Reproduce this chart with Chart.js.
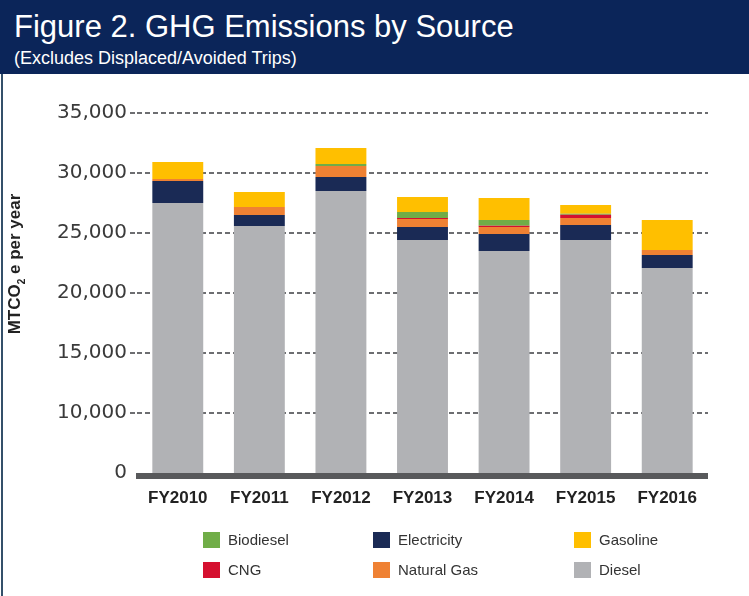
<html>
<head>
<meta charset="utf-8">
<script src="https://cdn.jsdelivr.net/npm/chart.js@4.4.1/dist/chart.umd.min.js"></script>
<style>
  body { margin:0; width:749px; height:596px; background:#fff; position:relative; overflow:hidden; font-family:'Liberation Sans', Arial, sans-serif; }
  #hdr { position:absolute; left:0; top:0; width:749px; height:74px; background:#0b2559; color:#fff; z-index:2; }
  #hdr .t { position:absolute; left:14px; top:9px; font-size:31px; white-space:nowrap; }
  #hdr .s { position:absolute; left:14px; top:48px; font-size:18px; white-space:nowrap; }
  #edge { position:absolute; left:1px; top:74px; width:2px; height:522px; background:#34506a; z-index:2; }
  #ytitle { position:absolute; left:16px; top:264px; transform:translate(-50%,-50%) rotate(-90deg); font-size:17px; font-weight:bold; color:#222; white-space:nowrap; z-index:2; }
  #ytitle sub { font-size:10px; }
  #legend { position:absolute; left:0; top:0; z-index:2; }
  .lg { position:absolute; font-size:15px; color:#333; white-space:nowrap; }
  .lg i { position:absolute; left:0; top:0; width:17px; height:16px; }
  .lg span { position:absolute; left:25px; top:-1px; }
  #wrap { position:absolute; left:0; top:0; width:749px; height:596px; }
</style>
</head>
<body>
<div id="hdr">
  <div class="t">Figure 2. GHG Emissions by Source</div>
  <div class="s">(Excludes Displaced/Avoided Trips)</div>
</div>
<div id="edge"></div>
<div id="ytitle">MTCO<sub>2</sub> e per year</div>
<div id="legend"></div>
<div id="wrap"><canvas id="myChart" width="749" height="596"></canvas></div>
<script>
var categories = ['FY2010','FY2011','FY2012','FY2013','FY2014','FY2015','FY2016'];
var diesel      = [27500, 25580, 28500, 24420, 23500, 24420, 22080];
var electricity = [1830, 920, 1170, 1080, 1420, 1250, 1080];
var naturalGas  = [170, 670, 920, 670, 580, 580, 420];
var cng         = [0, 0, 0, 80, 110, 280, 0];
var biodiesel   = [0, 0, 170, 500, 470, 80, 0];
var gasoline    = [1420, 1250, 1330, 1250, 1830, 730, 2500];
var yTicks = [5000, 10000, 15000, 20000, 25000, 30000, 35000];

// stacking order, bottom to top
var series = [
  {label:'Diesel', data:diesel, color:'#b1b2b5'},
  {label:'Electricity', data:electricity, color:'#1a2a55'},
  {label:'Natural Gas', data:naturalGas, color:'#ef8133'},
  {label:'CNG', data:cng, color:'#d5102f'},
  {label:'Biodiesel', data:biodiesel, color:'#70ad47'},
  {label:'Gasoline', data:gasoline, color:'#ffbf00'}
];

// legend grid (row by row, like the original)
var legendOrder = ['Biodiesel','Electricity','Gasoline','CNG','Natural Gas','Diesel'];
var colX = [203, 373, 574], rowY = [532, 562];
var lg = document.getElementById('legend');
legendOrder.forEach(function(name, i){
  var s = series.find(function(d){ return d.label === name; });
  var el = document.createElement('div');
  el.className = 'lg';
  el.style.left = colX[i % 3] + 'px';
  el.style.top = rowY[Math.floor(i / 3)] + 'px';
  el.innerHTML = "<i style='background:" + s.color + "'></i><span>" + name + "</span>";
  lg.appendChild(el);
});

var baseline = {
  id:'baseline',
  afterDatasetsDraw: function(chart){
    var a = chart.chartArea, c = chart.ctx;
    c.save();
    c.fillStyle = '#58595b';
    c.fillRect(a.left - 1, a.bottom, a.right - a.left + 1, 6);
    c.restore();
  }
};

var ctx = document.getElementById('myChart').getContext('2d');
var chart = new Chart(ctx, {
  type:'bar',
  data:{
    labels:categories,
    datasets:series.map(function(s){
      return {label:s.label, data:s.data, backgroundColor:s.color, borderWidth:0,
              barPercentage:1, categoryPercentage:0.624};
    })
  },
  options:{
    responsive:false,
    animation:false,
    layout:{padding:{top:113, right:41, bottom:0, left:0}},
    plugins:{legend:{display:false}, tooltip:{enabled:false}},
    scales:{
      x:{
        stacked:true,
        grid:{display:false},
        border:{display:false},
        ticks:{padding:7, color:'#222', font:{family:'Liberation Sans', size:17, weight:'bold'}},
        afterFit:function(s){ s.height = 123; }
      },
      y:{
        stacked:true,
        min:5000, max:35000,
        afterBuildTicks:function(s){ s.ticks = yTicks.map(function(v){ return {value:v}; }); },
        ticks:{
          padding:3, color:'#3a3a3a',
          font:{family:'DejaVu Sans', size:20},
          callback:function(v){ return v === 5000 ? '0' : v.toLocaleString('en-US'); }
        },
        grid:{
          color:function(c){ return c.tick && c.tick.value === 5000 ? 'rgba(0,0,0,0)' : '#6d6e71'; },
          lineWidth:2, tickLength:7, tickBorderDash:[5,3], borderDash:[5,3]
        },
        border:{display:false, dash:[5,3]},
        afterFit:function(s){ s.width = 137; }
      }
    }
  },
  plugins:[baseline]
});
</script>
</body>
</html>
